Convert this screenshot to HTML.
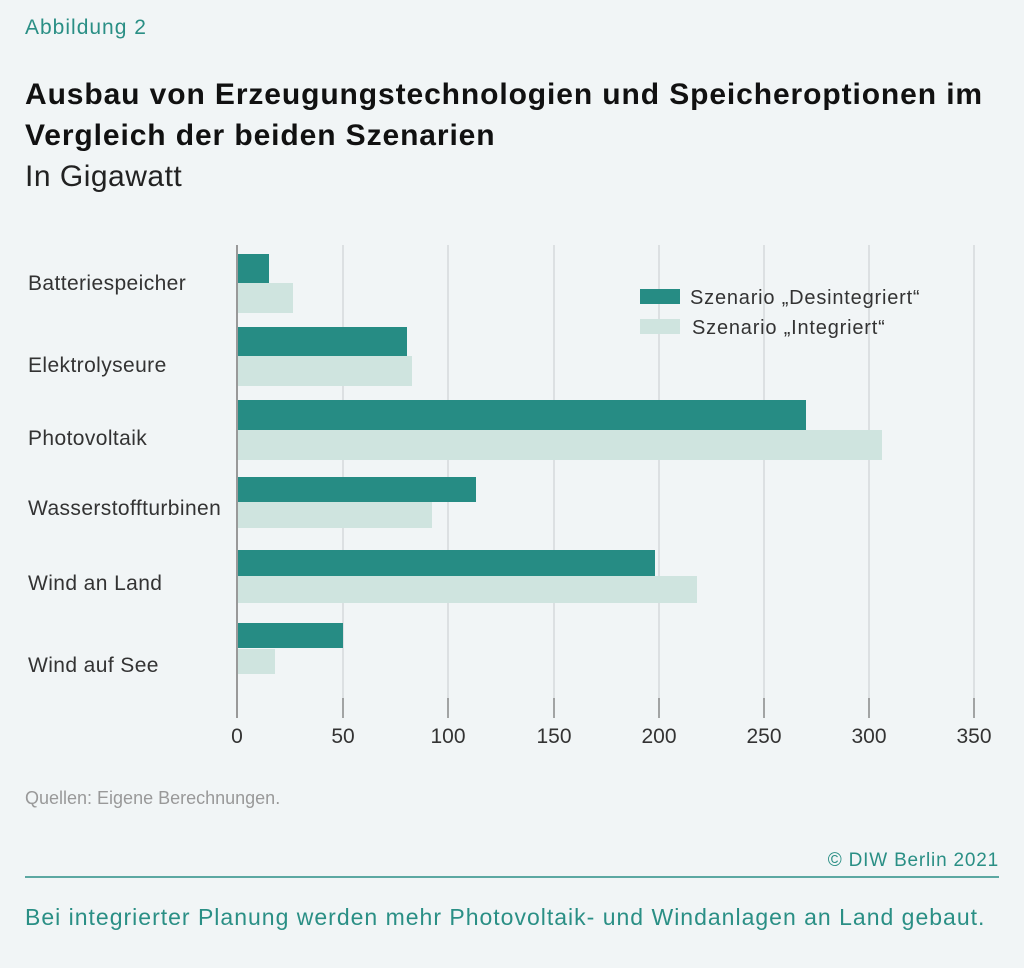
<!DOCTYPE html>
<html><head><meta charset="utf-8"><style>
body{margin:0;width:1024px;height:968px;background:#f1f5f6;font-family:"Liberation Sans","DejaVu Sans",sans-serif;position:relative;overflow:hidden}
.t{position:absolute;white-space:nowrap}
</style></head><body>
<div class="t" style="left:25px;top:16px;font-size:21px;letter-spacing:1px;color:#2a8f85">Abbildung 2</div>
<div class="t" style="left:25px;top:74px;font-size:30px;letter-spacing:0.9px;font-weight:bold;color:#111;line-height:41px">Ausbau von Erzeugungstechnologien und Speicheroptionen im<br>Vergleich der beiden Szenarien</div>
<div class="t" style="left:25px;top:160px;font-size:30px;letter-spacing:0.5px;color:#222">In Gigawatt</div>
<svg width="1024" height="968" style="position:absolute;left:0;top:0" font-family="Liberation Sans, DejaVu Sans, sans-serif">
<g stroke="#d6dadc" stroke-width="1.5">
<line x1="343" y1="245" x2="343" y2="700"/><line x1="448" y1="245" x2="448" y2="700"/><line x1="554" y1="245" x2="554" y2="700"/><line x1="659" y1="245" x2="659" y2="700"/><line x1="764" y1="245" x2="764" y2="700"/><line x1="869" y1="245" x2="869" y2="700"/><line x1="974" y1="245" x2="974" y2="700"/>
</g>
<g stroke="#888" stroke-width="1.5">
<line x1="343" y1="698" x2="343" y2="718"/><line x1="448" y1="698" x2="448" y2="718"/><line x1="554" y1="698" x2="554" y2="718"/><line x1="659" y1="698" x2="659" y2="718"/><line x1="764" y1="698" x2="764" y2="718"/><line x1="869" y1="698" x2="869" y2="718"/><line x1="974" y1="698" x2="974" y2="718"/>
</g>
<g fill="#268c84">
<rect x="237" y="254" width="32" height="29"/><rect x="237" y="327" width="170" height="29"/><rect x="237" y="400" width="569" height="30"/><rect x="237" y="477" width="239" height="25"/><rect x="237" y="550" width="418" height="26"/><rect x="237" y="623" width="106" height="25"/>
<rect x="640" y="289" width="40" height="15"/>
</g>
<g fill="#cfe4df">
<rect x="237" y="283" width="56" height="30"/><rect x="237" y="356" width="175" height="30"/><rect x="237" y="430" width="645" height="30"/><rect x="237" y="502" width="195" height="26"/><rect x="237" y="576" width="460" height="27"/><rect x="237" y="649" width="38" height="25"/>
<rect x="640" y="319" width="40" height="15"/>
</g>
<line x1="237" y1="245" x2="237" y2="718" stroke="#999" stroke-width="2"/>
<g font-size="21" fill="#333" letter-spacing="0.4">
<text x="28" y="290">Batteriespeicher</text><text x="28" y="372">Elektrolyseure</text><text x="28" y="445">Photovoltaik</text><text x="28" y="515">Wasserstoffturbinen</text><text x="28" y="590">Wind an Land</text><text x="28" y="672">Wind auf See</text>
</g>
<g font-size="20" fill="#333" letter-spacing="0.8">
<text x="690" y="304">Szenario „Desintegriert“</text><text x="692" y="334">Szenario „Integriert“</text>
</g>
<g font-size="21" fill="#333" text-anchor="middle">
<text x="237" y="743">0</text><text x="343" y="743">50</text><text x="448" y="743">100</text><text x="554" y="743">150</text><text x="659" y="743">200</text><text x="764" y="743">250</text><text x="869" y="743">300</text><text x="974" y="743">350</text>
</g>
<line x1="25" y1="877" x2="999" y2="877" stroke="#2a8f85" stroke-width="1.5"/>
</svg>
<div class="t" style="left:25px;top:788px;font-size:18px;color:#999">Quellen: Eigene Berechnungen.</div>
<div class="t" style="right:25px;top:850px;font-size:19px;letter-spacing:0.8px;color:#2a8f85">© DIW Berlin 2021</div>
<div class="t" style="left:25px;top:904px;font-size:23px;letter-spacing:1px;color:#2a8f85">Bei integrierter Planung werden mehr Photovoltaik- und Windanlagen an Land gebaut.</div>
</body></html>
